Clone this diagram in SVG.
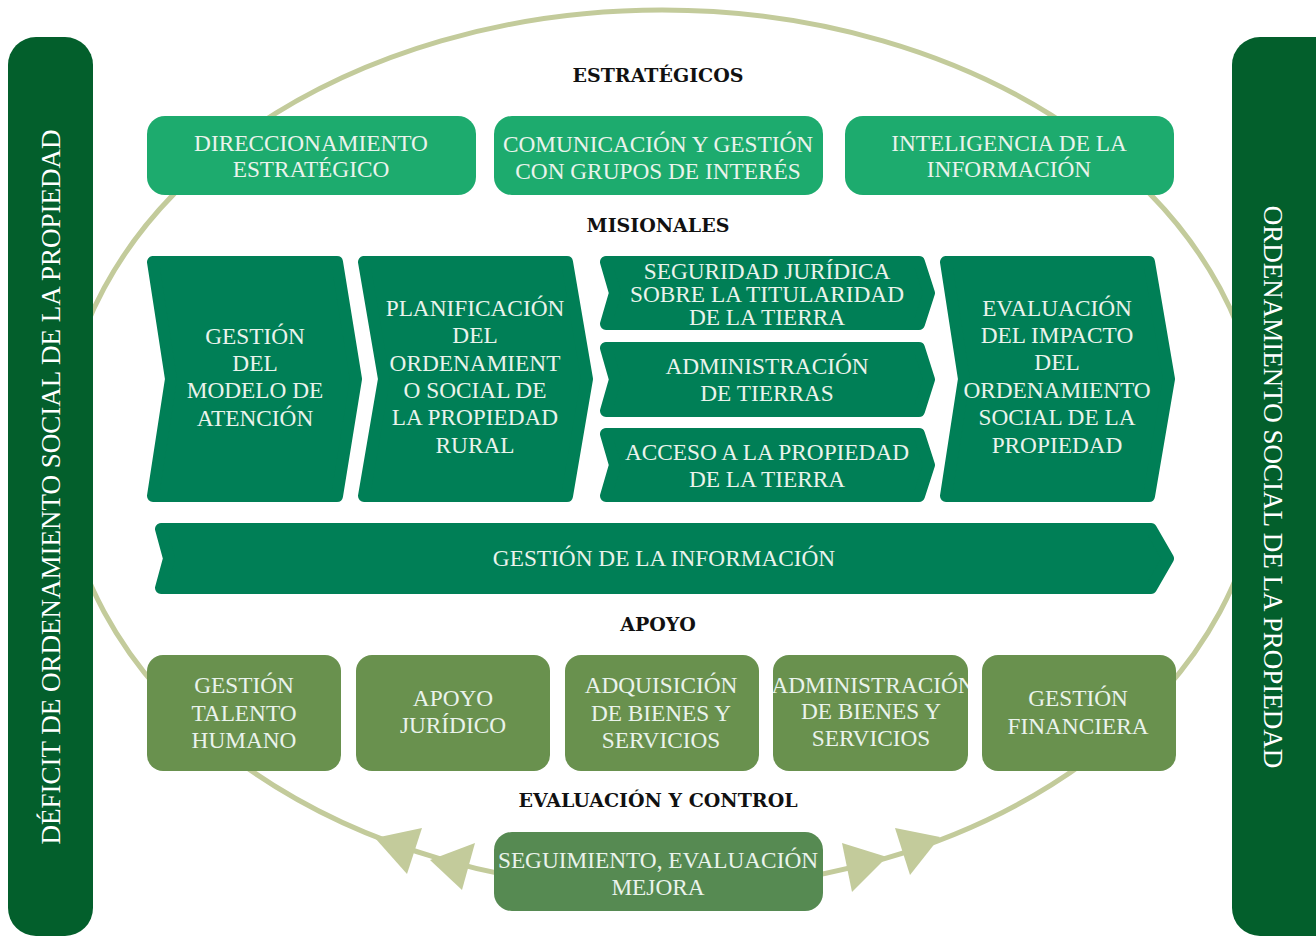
<svg xmlns="http://www.w3.org/2000/svg" width="1316" height="937" viewBox="0 0 1316 937">
  <style>
    .cycle { fill: none; stroke: #C3CB9B; stroke-width: 5; }
    .tri { fill: #C3CB9B; }
    .bar { fill: #035F2C; }
    .est { fill: #1DAB6E; }
    .mis { fill: #007F56; stroke: #007F56; stroke-width: 12; stroke-linejoin: round; }
    .apo { fill: #69914E; }
    .seg { fill: #568A52; }
    .t { font-family: "Liberation Serif", "DejaVu Serif", serif; font-size: 23.3px; fill: #EAF3EC; text-anchor: middle; }
    .side { font-family: "Liberation Serif", "DejaVu Serif", serif; font-size: 27px; fill: #FFFFFF; text-anchor: middle; }
    .h { font-family: "DejaVu Serif", "Liberation Serif", serif; font-size: 19px; font-weight: bold; fill: #111111; text-anchor: middle; }
  </style>
  <defs>
    <clipPath id="clip-admin-bienes">
      <rect x="773" y="655" width="195" height="116" rx="16"/>
    </clipPath>
  </defs>

  <!-- cycle ring behind everything -->
  <g id="connectors">
    <ellipse class="cycle" cx="662" cy="450" rx="600" ry="440"/>
    <polygon class="tri" points="375,838 422,828 407,874"/>
    <polygon class="tri" points="430,860 475,843 462,890"/>
    <polygon class="tri" points="887,857 842,843 852,892"/>
    <polygon class="tri" points="940,837 895,828 910,875"/>
  </g>

  <!-- side bars -->
  <g id="deficit">
    <rect class="bar" x="8" y="37" width="85" height="899" rx="28"/>
    <text class="side" transform="translate(60,487) rotate(-90)">DÉFICIT DE ORDENAMIENTO SOCIAL DE LA PROPIEDAD</text>
  </g>
  <g id="ordenamiento">
    <rect class="bar" x="1232" y="37" width="110" height="899" rx="28"/>
    <text class="side" transform="translate(1264,487) rotate(90)">ORDENAMIENTO SOCIAL DE LA PROPIEDAD</text>
  </g>

  <!-- section headings -->
  <text class="h" x="658" y="82">ESTRATÉGICOS</text>
  <text class="h" x="658" y="232">MISIONALES</text>
  <text class="h" x="658" y="631">APOYO</text>
  <text class="h" x="658" y="807">EVALUACIÓN Y CONTROL</text>

  <!-- strategic processes -->
  <g id="direccionamiento">
    <rect class="est" x="147" y="116" width="329" height="79" rx="18"/>
    <text class="t" x="311" y="151">DIRECCIONAMIENTO</text>
    <text class="t" x="311" y="177">ESTRATÉGICO</text>
  </g>
  <g id="comunicacion">
    <rect class="est" x="494" y="116" width="329" height="79" rx="18"/>
    <text class="t" x="658" y="152">COMUNICACIÓN Y GESTIÓN</text>
    <text class="t" x="658" y="179">CON GRUPOS DE INTERÉS</text>
  </g>
  <g id="inteligencia">
    <rect class="est" x="845" y="116" width="329" height="79" rx="18"/>
    <text class="t" x="1009" y="151">INTELIGENCIA DE LA</text>
    <text class="t" x="1009" y="177">INFORMACIÓN</text>
  </g>

  <!-- mission processes -->
  <g id="modelo-atencion">
    <path class="mis" d="M153,262 L337,262 L356,379 L337,496 L153,496 L171,379 Z"/>
    <text class="t" x="255" y="344">GESTIÓN</text>
    <text class="t" x="255" y="371">DEL</text>
    <text class="t" x="255" y="398">MODELO DE</text>
    <text class="t" x="255" y="426">ATENCIÓN</text>
  </g>
  <g id="planificacion">
    <path class="mis" d="M364,262 L567,262 L587,379 L567,496 L364,496 L384,379 Z"/>
    <text class="t" x="475" y="316">PLANIFICACIÓN</text>
    <text class="t" x="475" y="343">DEL</text>
    <text class="t" x="475" y="371">ORDENAMIENT</text>
    <text class="t" x="475" y="398">O SOCIAL DE</text>
    <text class="t" x="475" y="425">LA PROPIEDAD</text>
    <text class="t" x="475" y="453">RURAL</text>
  </g>
  <g id="seguridad-juridica">
    <path class="mis" d="M606,262 L919,262 L929,293 L919,324 L606,324 L615,293 Z"/>
    <text class="t" x="767" y="279">SEGURIDAD JURÍDICA</text>
    <text class="t" x="767" y="302">SOBRE LA TITULARIDAD</text>
    <text class="t" x="767" y="325">DE LA TIERRA</text>
  </g>
  <g id="administracion-tierras">
    <path class="mis" d="M606,348 L919,348 L929,379.5 L919,411 L606,411 L615,379.5 Z"/>
    <text class="t" x="767" y="374">ADMINISTRACIÓN</text>
    <text class="t" x="767" y="401">DE TIERRAS</text>
  </g>
  <g id="acceso-propiedad">
    <path class="mis" d="M606,434 L919,434 L929,465 L919,496 L606,496 L615,465 Z"/>
    <text class="t" x="767" y="460">ACCESO A LA PROPIEDAD</text>
    <text class="t" x="767" y="487">DE LA TIERRA</text>
  </g>
  <g id="evaluacion-impacto">
    <path class="mis" d="M946,262 L1149,262 L1169,379 L1149,496 L946,496 L964,379 Z"/>
    <text class="t" x="1057" y="316">EVALUACIÓN</text>
    <text class="t" x="1057" y="343">DEL IMPACTO</text>
    <text class="t" x="1057" y="370">DEL</text>
    <text class="t" x="1057" y="398">ORDENAMIENTO</text>
    <text class="t" x="1057" y="425">SOCIAL DE LA</text>
    <text class="t" x="1057" y="453">PROPIEDAD</text>
  </g>
  <g id="gestion-informacion">
    <path class="mis" d="M161,529 L1151,529 L1168,558.5 L1151,588 L161,588 L169,558.5 Z"/>
    <text class="t" x="664" y="566">GESTIÓN DE LA INFORMACIÓN</text>
  </g>

  <!-- support processes -->
  <g id="talento-humano">
    <rect class="apo" x="147" y="655" width="194" height="116" rx="16"/>
    <text class="t" x="244" y="693">GESTIÓN</text>
    <text class="t" x="244" y="721">TALENTO</text>
    <text class="t" x="244" y="748">HUMANO</text>
  </g>
  <g id="apoyo-juridico">
    <rect class="apo" x="356" y="655" width="194" height="116" rx="16"/>
    <text class="t" x="453" y="706">APOYO</text>
    <text class="t" x="453" y="733">JURÍDICO</text>
  </g>
  <g id="adquisicion">
    <rect class="apo" x="565" y="655" width="194" height="116" rx="16"/>
    <text class="t" x="661" y="693">ADQUISICIÓN</text>
    <text class="t" x="661" y="721">DE BIENES Y</text>
    <text class="t" x="661" y="748">SERVICIOS</text>
  </g>
  <g id="administracion-bienes">
    <rect class="apo" x="773" y="655" width="195" height="116" rx="16"/>
    <g clip-path="url(#clip-admin-bienes)">
      <text class="t" x="873" y="693">ADMINISTRACIÓN</text>
      <text class="t" x="871" y="719">DE BIENES Y</text>
      <text class="t" x="871" y="746">SERVICIOS</text>
    </g>
  </g>
  <g id="financiera">
    <rect class="apo" x="982" y="655" width="194" height="116" rx="16"/>
    <text class="t" x="1078" y="706">GESTIÓN</text>
    <text class="t" x="1078" y="734">FINANCIERA</text>
  </g>

  <!-- evaluation and control -->
  <g id="seguimiento">
    <rect class="seg" x="494" y="832" width="329" height="79" rx="18"/>
    <text class="t" x="658" y="868">SEGUIMIENTO, EVALUACIÓN</text>
    <text class="t" x="658" y="895">MEJORA</text>
  </g>
</svg>
